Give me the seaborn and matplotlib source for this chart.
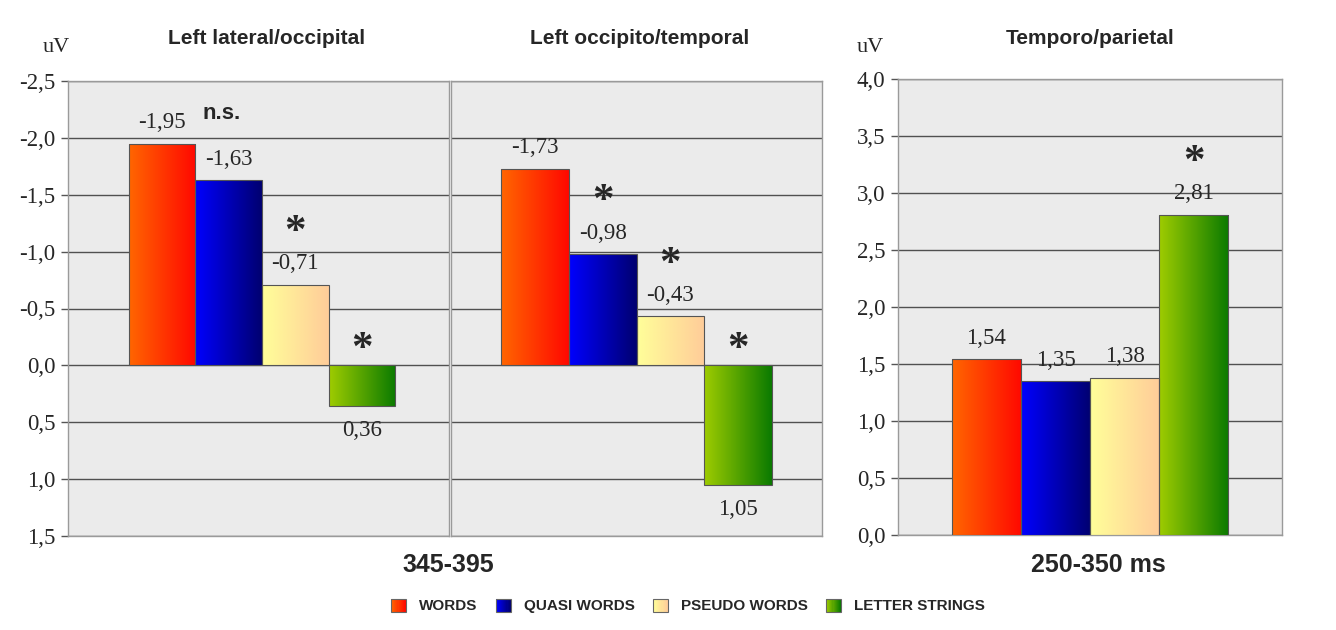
import numpy as np
import pandas as pd
import matplotlib
matplotlib.use("Agg")
import matplotlib.pyplot as plt
import seaborn as sns
from matplotlib.colors import LinearSegmentedColormap
from matplotlib.patches import Patch, Rectangle
from matplotlib.legend_handler import HandlerBase

# data
conditions = ["WORDS", "QUASI WORDS", "PSEUDO WORDS", "LETTER STRINGS"]
titles = ["Left lateral/occipital", "Left occipito/temporal", "Temporo/parietal"]
lateral_occipital = [-1.95, -1.63, -0.71, 0.36]
occipito_temporal = [-1.73, -0.98, -0.43, 1.05]
temporo_parietal = [1.54, 1.35, 1.38, 2.81]
marks_lateral = ["", "n.s.", "*", "*"]
marks_occipito = ["", "*", "*", "*"]
marks_temporo = ["", "", "", "*"]
ticks_left = [-2.5, -2.0, -1.5, -1.0, -0.5, 0.0, 0.5, 1.0, 1.5]
ticks_right = [0.0, 0.5, 1.0, 1.5, 2.0, 2.5, 3.0, 3.5, 4.0]
window_left = "345-395"
window_right = "250-350 ms"
unit = "uV"

# left -> right gradient of each bar
grad = {
    "WORDS": ("#ff6600", "#ff0800"),
    "QUASI WORDS": ("#0000ff", "#000070"),
    "PSEUDO WORDS": ("#ffff99", "#ffcc99"),
    "LETTER STRINGS": ("#9fcc00", "#0a7a00"),
}
mid = {k: LinearSegmentedColormap.from_list(k, v)(0.5) for k, v in grad.items()}

sns.set_style("white")
serif = ["Liberation Serif", "DejaVu Serif"]
sans = ["Liberation Sans", "DejaVu Sans"]
plt.rcParams["font.family"] = sans


class GradientHandler(HandlerBase):
    # legend key filled with the same left->right gradient as the bars
    def create_artists(self, legend, orig_handle, xdescent, ydescent, width, height, fontsize, trans):
        cmap = LinearSegmentedColormap.from_list("k", grad[orig_handle.get_label()])
        n = 14
        arts = []
        for i in range(n):
            arts.append(Rectangle((-xdescent + width * i / n, -ydescent), width / n + 0.2, height,
                                  facecolor=cmap(i / (n - 1)), edgecolor="none", transform=trans))
        arts.append(Rectangle((-xdescent, -ydescent), width, height, facecolor="none",
                              edgecolor="#666666", linewidth=0.8, transform=trans))
        return arts


fig = plt.figure(figsize=(13.36, 6.3), dpi=100)
ax1 = fig.add_axes([68 / 1336, 1 - 536 / 630, 381 / 1336, 455 / 630])
ax2 = fig.add_axes([451 / 1336, 1 - 536 / 630, 371 / 1336, 455 / 630])
ax3 = fig.add_axes([898 / 1336, 1 - 535 / 630, 384 / 1336, 456 / 630])


def fmt(v, n):
    return f"{v:.{n}f}".replace(".", ",")


def draw_panel(ax, values, marks, ticks, inverted, show_labels, width, shift):
    df = pd.DataFrame({"group": "g", "condition": conditions, "value": values})
    sns.barplot(data=df, x="group", y="value", hue="condition", hue_order=conditions,
                palette=mid, width=width, errorbar=None, legend=False, ax=ax,
                edgecolor="#555555", linewidth=0.8)
    bars = sorted(ax.patches, key=lambda p: p.get_x())
    for bar, cond in zip(bars, conditions):
        x0, w = bar.get_x(), bar.get_width()
        y0, h = bar.get_y(), bar.get_height()
        cmap = LinearSegmentedColormap.from_list(cond, grad[cond])
        im = ax.imshow(np.linspace(0, 1, 256).reshape(1, -1), cmap=cmap, aspect="auto",
                       extent=[x0, x0 + w, y0, y0 + h], zorder=3, interpolation="bilinear")
        im.set_clip_path(bar)
        bar.set_facecolor("none")
        bar.set_zorder(4)

    for bar, v, m in zip(bars, values, marks):
        cx = bar.get_x() + bar.get_width() / 2
        up = (v < 0) if inverted else (v > 0)
        if up:
            ax.annotate(fmt(v, 2), (cx, v), xytext=(0, 11), textcoords="offset points",
                        ha="center", va="baseline", fontsize=16.5, family=serif)
            if m == "n.s.":
                ax.annotate(m, (cx, v), xytext=(-5, 44), textcoords="offset points",
                            ha="center", va="baseline", fontsize=16, fontweight="bold")
            elif m:
                ax.annotate(m, (cx, v), xytext=(0, 30), textcoords="offset points",
                            ha="center", va="baseline", fontsize=31, family=serif,
                            fontweight="bold")
        else:
            ax.annotate(fmt(v, 2), (cx, v), xytext=(0, -10), textcoords="offset points",
                        ha="center", va="top", fontsize=16.5, family=serif)
            if m:
                ax.annotate(m, (cx, 0), xytext=(0, 4), textcoords="offset points",
                            ha="center", va="baseline", fontsize=31, family=serif,
                            fontweight="bold")

    ax.set_facecolor("#ebebeb")
    ax.set_xlim(-0.5 - shift, 0.5 - shift)
    if inverted:
        ax.set_ylim(ticks[-1], ticks[0])
    else:
        ax.set_ylim(ticks[0], ticks[-1])
    ax.set_xticks([])
    ax.set_xlabel("")
    ax.set_ylabel("")
    ax.set_yticks(ticks)
    ax.yaxis.grid(True, color="#505050", linewidth=1)
    ax.set_axisbelow(True)
    for s in ax.spines.values():
        s.set_color("#9a9a9a")
        s.set_linewidth(1)
    if show_labels:
        ax.set_yticklabels([fmt(t, 1) for t in ticks], family=serif, fontsize=16.5)
        ax.tick_params(axis="y", left=True, length=5, width=1, color="#555555", pad=4)
    else:
        ax.set_yticklabels([])
        ax.tick_params(axis="y", left=False, length=0)


draw_panel(ax1, lateral_occipital, marks_lateral, ticks_left, True, True, 0.70, 0.009)
draw_panel(ax2, occipito_temporal, marks_occipito, ticks_left, True, False, 0.728, 0.0)
draw_panel(ax3, temporo_parietal, marks_temporo, ticks_right, False, True, 0.72, 0.0)

# titles and labels
fig.text(267 / 1336, 1 - 38 / 630, titles[0], ha="center", va="center", fontsize=15, fontweight="bold")
fig.text(640 / 1336, 1 - 38 / 630, titles[1], ha="center", va="center", fontsize=15, fontweight="bold")
fig.text(1090 / 1336, 1 - 38 / 630, titles[2], ha="center", va="center", fontsize=15, fontweight="bold")
fig.text(56 / 1336, 1 - 47 / 630, unit, ha="center", va="center", fontsize=16, family=serif)
fig.text(870 / 1336, 1 - 47 / 630, unit, ha="center", va="center", fontsize=16, family=serif)
fig.text(448 / 1336, 1 - 565 / 630, window_left, ha="center", va="center", fontsize=18, fontweight="bold")
fig.text(1098 / 1336, 1 - 565 / 630, window_right, ha="center", va="center", fontsize=18, fontweight="bold")

handles = [Patch(facecolor=mid[c], label=c) for c in conditions]
fig.legend(handles=handles, handler_map={Patch: GradientHandler()}, loc="center",
           bbox_to_anchor=(688 / 1336, 1 - 606 / 630), ncol=4, frameon=False,
           handlelength=0.98, handleheight=0.98, columnspacing=1.2, handletextpad=0.85,
           prop={"family": sans, "weight": "bold", "size": 11})

fig.savefig("out.png", dpi=100, facecolor="white")
